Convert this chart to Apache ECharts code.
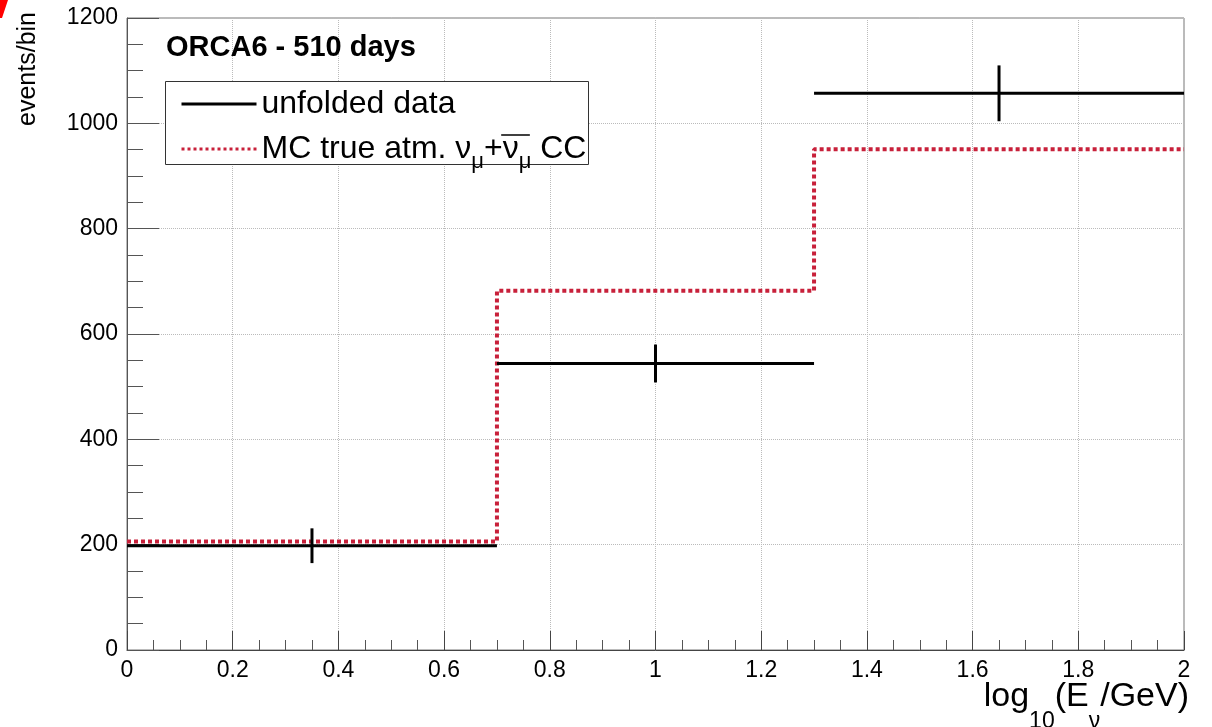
<!DOCTYPE html>
<html><head><meta charset="utf-8">
<script src="https://cdn.jsdelivr.net/npm/echarts@6/dist/echarts.min.js"></script>
<style>html,body{margin:0;padding:0;background:#fff}#c{width:1212px;height:727px}</style>
</head><body><div id="c"></div>
<script>
// ---- data ----
const binEdges   = [0, 0.7, 1.3, 2];
const binCenters = [0.35, 1.0, 1.65];
const dataValues = [198, 544, 1057];   // unfolded data
const dataErrors = [33, 36, 53];       // error half-lengths
const mcValues   = [206, 682, 951];    // MC true atm. numu CC
const xTickValues = [0, 0.2, 0.4, 0.6, 0.8, 1, 1.2, 1.4, 1.6, 1.8, 2];
const yTickValues = [0, 200, 400, 600, 800, 1000, 1200];

const FONT = "'Liberation Sans', Helvetica, Arial, sans-serif";
const MC_NAME = 'MC true atm. numu CC';
const DATA_NAME = 'unfolded data';

// legend layout settings
const LEG = {left: 165, top: 81, w: 423, h: 83, padTop: 7, padLeft: 15, itemWidth: 75, gap: 13, lineH: 30, font: 32, sub: 22};

// line segments for the data histogram (gaps between bins)
const dataLine = [];
dataValues.forEach((v, i) => {
  if (i > 0) dataLine.push([binEdges[i], '-']);
  dataLine.push([binEdges[i], v], [binEdges[i + 1], v]);
});
// step line for MC
const mcLine = mcValues.map((v, i) => [binEdges[i], v]);
mcLine.push([binEdges[binEdges.length - 1], mcValues[mcValues.length - 1]]);
const errData = binCenters.map((c, i) => [c, dataValues[i], dataErrors[i]]);

// measure text to place the anti-neutrino overline
const mctx = document.createElement('canvas').getContext('2d');
function tw(str, size) { mctx.font = size + 'px ' + FONT; return mctx.measureText(str).width; }
const textX0 = LEG.left + LEG.padLeft + LEG.itemWidth + 5;
const obX1 = textX0 + tw('MC true atm. ν', LEG.font) + tw('μ', LEG.sub) + tw('+', LEG.font);
const obX2 = obX1 + tw('ν', LEG.font) + tw('μ', LEG.sub);
const row2Mid = LEG.top + LEG.padTop + LEG.lineH + LEG.gap + LEG.lineH / 2;
const obY = row2Mid - 11;

const chart = echarts.init(document.getElementById('c'), null, {renderer: 'canvas'});
chart.setOption({
  backgroundColor: '#fff',
  animation: false,
  title: {
    text: 'ORCA6 - 510 days', left: 166, top: 33, padding: 0,
    textStyle: {fontFamily: FONT, fontSize: 29, fontWeight: 'bold', color: '#000'}
  },
  legend: {
    data: [
      {name: DATA_NAME, lineStyle: {width: 3, color: '#000'}},
      {name: MC_NAME, lineStyle: {width: 3, color: '#c8203a', type: [3, 3]}}
    ],
    orient: 'vertical', left: LEG.left, top: LEG.top,
    padding: [LEG.padTop, 0, 0, LEG.padLeft], itemGap: LEG.gap,
    itemWidth: LEG.itemWidth, itemHeight: 14,
    itemStyle: {opacity: 0},
    borderWidth: 0, backgroundColor: 'transparent',
    selectedMode: false, z: 6,
    formatter: name => name === MC_NAME
      ? 'MC true atm. ν{sub|μ}+ν{sub|μ} CC'
      : name,
    textStyle: {
      fontFamily: FONT, fontSize: LEG.font, color: '#000', lineHeight: LEG.lineH,
      rich: {
        sub: {fontFamily: FONT, fontSize: LEG.sub, color: '#000', lineHeight: LEG.lineH, padding: [13, 0, -13, 0]}
      }
    }
  },
  grid: {left: 127, right: 28, top: 18, bottom: 77, show: true, borderColor: '#777', borderWidth: 1,
         containLabel: false, outerBoundsMode: 'none'},
  xAxis: {
    type: 'value',
    min: xTickValues[0], max: xTickValues[xTickValues.length - 1], interval: xTickValues[1] - xTickValues[0],
    axisLine: {lineStyle: {color: '#444', width: 1}},
    axisTick: {inside: true, length: 19, lineStyle: {color: '#444'}},
    minorTick: {show: true, splitNumber: 4, length: 10, lineStyle: {color: '#555'}},
    splitLine: {show: true, lineStyle: {color: '#bbb', type: 'dotted', width: 1}},
    axisLabel: {fontFamily: FONT, fontSize: 23, color: '#000', margin: 9}
  },
  yAxis: {
    type: 'value',
    min: yTickValues[0], max: yTickValues[yTickValues.length - 1], interval: yTickValues[1] - yTickValues[0],
    axisLine: {show: true, lineStyle: {color: '#555', width: 1}},
    axisTick: {show: true, inside: true, length: 32, lineStyle: {color: '#555'}},
    minorTick: {show: true, splitNumber: 4, length: 16, lineStyle: {color: '#555'}},
    splitLine: {show: true, lineStyle: {color: '#bbb', type: 'dotted', width: 1}},
    axisLabel: {fontFamily: FONT, fontSize: 23, color: '#000', margin: 9, formatter: v => String(v)}
  },
  graphic: [
    {type: 'polygon', shape: {points: [[0, 0], [8, 0], [2, 18], [0, 18]]}, style: {fill: '#ff0000'}},
    {type: 'text', x: 28, y: 12, rotation: Math.PI / 2,
     style: {text: 'events/bin', font: '25px ' + FONT, fill: '#000', align: 'right', verticalAlign: 'middle'}},
    {type: 'text', x: 1189, y: 697,
     style: {
       text: 'log{sub|10}(E{sub|ν}/GeV)', fontFamily: FONT, fontSize: 34, fill: '#000',
       align: 'right', verticalAlign: 'middle', lineHeight: 34,
       rich: {sub: {fontFamily: FONT, fontSize: 23, fill: '#000', lineHeight: 34, padding: [25, 0, -25, 0]}}
     }},
    {type: 'rect', shape: {x: LEG.left + 0.5, y: LEG.top + 0.5, width: LEG.w, height: LEG.h},
     style: {fill: '#fff', stroke: '#333', lineWidth: 1}, z: 5},
    {type: 'line', shape: {x1: obX1, y1: obY, x2: obX2, y2: obY}, style: {stroke: '#000', lineWidth: 1.5}, z: 100}
  ],
  series: [
    {
      name: MC_NAME, type: 'line', data: mcLine, step: 'end', symbol: 'none',
      lineStyle: {color: '#c8203a', width: 4, type: [4, 3]}, itemStyle: {color: '#c8203a'}, z: 3
    },
    {
      name: DATA_NAME, type: 'line', data: dataLine, symbol: 'none', connectNulls: false,
      lineStyle: {color: '#000', width: 3}, itemStyle: {color: '#000'}, z: 4
    },
    {
      name: 'errors', type: 'custom', data: errData, encode: {x: 0, y: 1}, z: 4,
      renderItem: (params, api) => {
        const x = api.value(0), y = api.value(1), e = api.value(2);
        const p1 = api.coord([x, y - e]), p2 = api.coord([x, y + e]);
        return {type: 'line', shape: {x1: p1[0], y1: p1[1], x2: p2[0], y2: p2[1]}, style: {stroke: '#000', lineWidth: 3}};
      }
    }
  ]
});
</script>
</body></html>
